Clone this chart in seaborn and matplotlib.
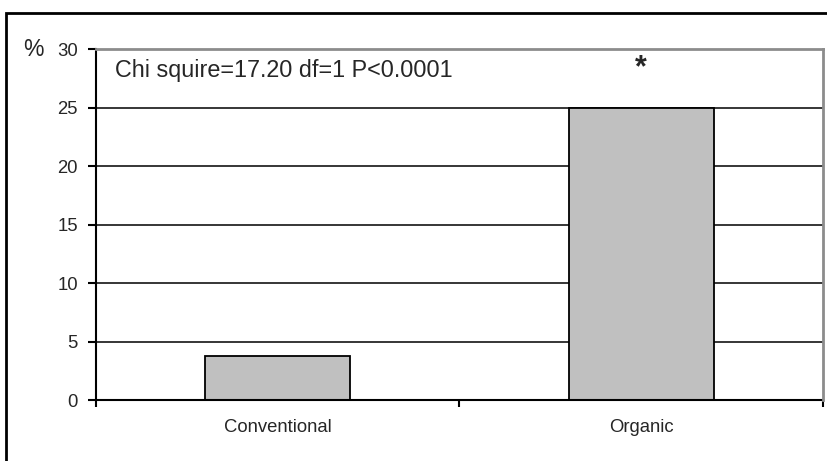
import numpy as np
import pandas as pd
import matplotlib.pyplot as plt
import seaborn as sns
from matplotlib.patches import Rectangle

# data
categories = ['Conventional', 'Organic']
percent = [3.8, 25.0]
y_ticks = [0, 5, 10, 15, 20, 25, 30]
stat_text = 'Chi squire=17.20 df=1 P<0.0001'
star_text = '*'
star_level = 27.7

df = pd.DataFrame({'group': categories, 'pct': percent})

sns.set_style('white')
plt.rcParams['font.family'] = ['Liberation Sans', 'DejaVu Sans']

fig = plt.figure(figsize=(8.28, 4.61), dpi=100)
ax = fig.add_axes([0.1159, 0.1323, 0.8781, 0.7614])

sns.barplot(data=df, x='group', y='pct', ax=ax, width=0.4,
            color='#C0C0C0', edgecolor='black', linewidth=1.3, saturation=1)

ax.set_xlim(-0.5, 1.5)
ax.set_ylim(0, 30)
ax.set_yticks(y_ticks)
ax.set_xlabel('')
ax.set_ylabel('')

# horizontal gridlines
ax.set_axisbelow(True)
ax.yaxis.grid(True, color='black', linewidth=1.1)
ax.xaxis.grid(False)

# frame: black left/bottom, grey top/right
for side in ['left', 'bottom']:
    ax.spines[side].set_color('black')
    ax.spines[side].set_linewidth(1.5)
for side in ['top', 'right']:
    ax.spines[side].set_color('#8c8c8c')
    ax.spines[side].set_linewidth(2)
    ax.spines[side].set_zorder(3)

# category ticks at the boundaries, labels centred
ax.set_xticks([-0.5, 0.5, 1.5], minor=True)
ax.tick_params(axis='x', which='minor', direction='out', length=5, width=1.5,
               bottom=True, color='black')
ax.tick_params(axis='x', which='major', length=0, pad=14, labelsize=13.3)
ax.tick_params(axis='y', direction='out', length=6, width=1.5, left=True,
               color='black', pad=7, labelsize=13.3)

ax.text(-0.1, 1.0, '%', transform=ax.transAxes, ha='left', va='center',
        fontsize=16.5)
ax.text(0.026, 0.92, stat_text, transform=ax.transAxes, ha='left',
        va='baseline', fontsize=16.8)
ax.text(1, star_level, star_text, ha='center', va='baseline',
        fontsize=22, fontweight='bold')

# outer chart-area border (cut off on the right and bottom)
fig.add_artist(Rectangle((6 / 828, -0.2), 1.2, 0.2 + 1 - 13 / 461,
                         transform=fig.transFigure, fill=False,
                         edgecolor='black', linewidth=2))

plt.savefig('out.png', dpi=100)
